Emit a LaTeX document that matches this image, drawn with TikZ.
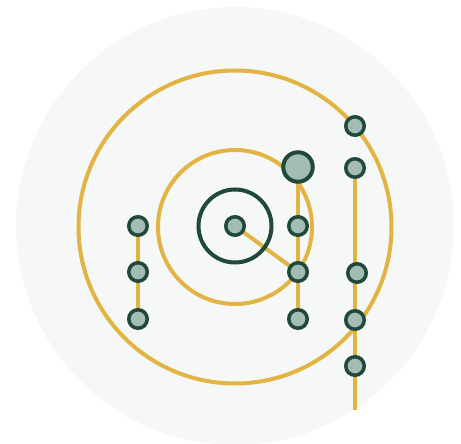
\documentclass[tikz,border=0pt]{standalone}
\definecolor{bgc}{HTML}{F6F8F7}
\definecolor{gold}{HTML}{E2B443}
\definecolor{dkgreen}{HTML}{1F4A3A}
\definecolor{sage}{HTML}{A3BDB5}
\pgfdeclarelayer{bg}
\pgfdeclarelayer{mid}
\pgfsetlayers{bg,mid,main}
\tikzset{
  dot/.style={circle, draw=dkgreen, fill=sage, line width=3.5pt, minimum size=18.5pt, inner sep=0pt},
  bigdot/.style={dot, minimum size=29.5pt, line width=4pt},
  ring/.style={circle, draw=dkgreen, line width=4pt, minimum size=73pt, inner sep=0pt},
  link/.style={draw=gold, line width=4pt},
  orbit/.style={draw=gold, line width=4pt}
}
\begin{document}
\begin{tikzpicture}[x=1pt,y=-1pt]
\useasboundingbox (0,0) rectangle (461,444);
% nodes
\node[ring] (ring) at (235,226) {};
\node[dot] (c) at (235,226) {};
\node[dot] (l1) at (138,226) {};
\node[dot] (l2) at (138,272) {};
\node[dot] (l3) at (138,319) {};
\node[bigdot] (m0) at (298,167) {};
\node[dot] (m1) at (298,226) {};
\node[dot] (m2) at (298,272) {};
\node[dot] (m3) at (298,319) {};
\node[dot] (r0) at (355,126) {};
\node[dot] (r1) at (355,168) {};
\node[dot] (r2) at (357,273) {};
\node[dot] (r3) at (355,320) {};
\node[dot] (r4) at (355,366) {};
\coordinate (rend) at (355,410);
\begin{pgfonlayer}{bg}
  \clip (0,0) rectangle (461,444);
  \fill[bgc] (235,226) circle (219);
  \draw[orbit] (235,227) circle (156.5);
  \draw[orbit] (235,227) circle (77);
\end{pgfonlayer}
\begin{pgfonlayer}{mid}
  \draw[link] (c.center) -- (m2.center);
  \draw[link] (l1.center) -- (l3.center);
  \draw[link] (m0.center) -- (m3.center);
  \draw[link] (r1.center) -- (rend);
\end{pgfonlayer}
\end{tikzpicture}
\end{document}
